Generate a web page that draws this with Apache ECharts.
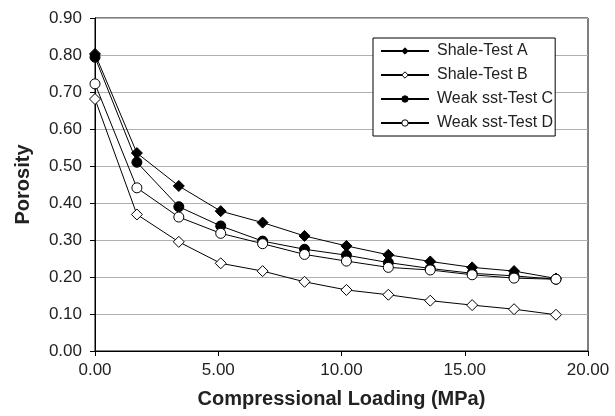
<!DOCTYPE html>
<html><head><meta charset="utf-8">
<script src="https://cdn.jsdelivr.net/npm/echarts@6/dist/echarts.min.js"></script>
<style>html,body{margin:0;padding:0;background:#fff}#c{width:615px;height:416px}</style>
</head><body><div id="c"></div>
<script>
var loading = [0, 1.7, 3.4, 5.1, 6.8, 8.5, 10.2, 11.9, 13.6, 15.3, 17.0, 18.7];
var shaleA = [0.803, 0.535, 0.446, 0.378, 0.347, 0.311, 0.284, 0.260, 0.242, 0.226, 0.216, 0.196];
var shaleB = [0.681, 0.369, 0.295, 0.237, 0.216, 0.187, 0.165, 0.152, 0.136, 0.124, 0.113, 0.098];
var weakC = [0.794, 0.510, 0.390, 0.338, 0.297, 0.275, 0.259, 0.239, 0.223, 0.210, 0.203, 0.194];
var weakD = [0.722, 0.441, 0.362, 0.318, 0.290, 0.261, 0.243, 0.226, 0.219, 0.206, 0.197, 0.194];
var seriesNames = ['Shale-Test A', 'Shale-Test B', 'Weak sst-Test C', 'Weak sst-Test D'];

function pairs(v){ return loading.map(function(x,i){ return [x, v[i]]; }); }
var font = 'Liberation Sans, Arial, sans-serif';
function mk(name, data, symbol, fill, size){
  return {
    name: name, type: 'line', data: pairs(data),
    symbol: symbol, symbolSize: size,
    lineStyle: {color: '#000', width: 1},
    itemStyle: {color: fill, borderColor: '#000', borderWidth: 1},
    emphasis: {disabled: true},
    z: 3
  };
}
var chart = echarts.init(document.getElementById('c'), null, {renderer: 'canvas'});
chart.setOption({
  animation: false,
  backgroundColor: '#fff',
  grid: {left: 95, right: 27, top: 18, bottom: 65, show: true, borderColor: '#000', borderWidth: 1, backgroundColor: 'transparent'},
  legend: {
    data: seriesNames,
    orient: 'vertical',
    left: 373, top: 38,
    padding: [5, 2, 5, 7],
    itemWidth: 48, itemHeight: 8, itemGap: 8,
    backgroundColor: '#fff',
    borderColor: '#000', borderWidth: 1,
    textStyle: {fontFamily: font, fontSize: 16, lineHeight: 16, color: '#222', padding: [0, 0, 0, 3]},
    itemStyle: {borderColor: '#000', borderWidth: 1}
  },
  xAxis: {
    type: 'value', min: 0, max: 20, interval: 5,
    name: 'Compressional Loading (MPa)', nameLocation: 'middle', nameGap: 38,
    nameTextStyle: {fontFamily: font, fontSize: 20, fontWeight: 'bold', color: '#222'},
    axisLine: {onZero: false, lineStyle: {color: '#000', width: 1}},
    axisTick: {show: true, length: 5, lineStyle: {color: '#000'}},
    axisLabel: {fontFamily: font, fontSize: 17, color: '#222', margin: 11, formatter: function(v){ return v.toFixed(2); }},
    splitLine: {show: false}
  },
  yAxis: {
    type: 'value', min: 0, max: 0.9, interval: 0.1,
    name: 'Porosity', nameLocation: 'middle', nameGap: 62, nameRotate: 90,
    nameTextStyle: {fontFamily: font, fontSize: 20, fontWeight: 'bold', color: '#222'},
    axisLine: {show: true, lineStyle: {color: '#000', width: 1}},
    axisTick: {show: true, length: 5, lineStyle: {color: '#000'}},
    axisLabel: {fontFamily: font, fontSize: 17, color: '#222', margin: 13, formatter: function(v){ return v.toFixed(2); }},
    splitLine: {show: true, lineStyle: {color: '#b0b0b0', width: 1}}
  },
  series: [
    mk(seriesNames[0], shaleA, 'diamond', '#000', 11),
    mk(seriesNames[1], shaleB, 'diamond', '#fff', 11),
    mk(seriesNames[2], weakC, 'circle', '#000', 10),
    mk(seriesNames[3], weakD, 'circle', '#fff', 10)
  ]
});
</script></body></html>
